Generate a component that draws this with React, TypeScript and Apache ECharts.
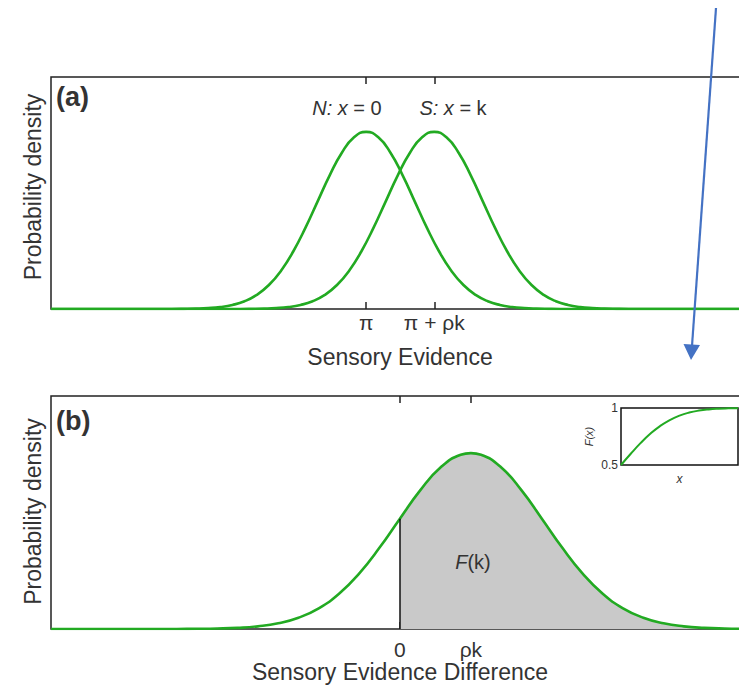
import React, { useEffect, useRef } from 'react';
import * as echarts from 'echarts';

const FONT = '"Liberation Sans", Arial, Helvetica, sans-serif';
const TEXT = '#333333';
const GREEN = '#22aa22';
const BOX = '#222222';

// ---- panel (a): two equal-variance distributions (N and S)
const aTickValues = [0, 1.4];
const aTickLabels = ['π', 'π + ρk'];
const aMeans = [0, 1.4]; // N: x = 0, S: x = k
const aRange = [-6.48, 8.2];
const shapeOffsets = [
  -4, -3.75, -3.5, -3.25, -3, -2.75, -2.5, -2.25, -2, -1.75, -1.5, -1.25, -1, -0.75, -0.5, -0.25,
  0, 0.25, 0.5, 0.75, 1, 1.25, 1.5, 1.75, 2, 2.25, 2.5, 2.75, 3, 3.25, 3.5, 3.75, 4,
];
const shapeHeights = [
  0.0003, 0.0009, 0.0022, 0.0051, 0.0111, 0.0228, 0.0439, 0.0796, 0.1353, 0.2163, 0.3247, 0.4578,
  0.6065, 0.7548, 0.8825, 0.9692, 1, 0.9692, 0.8825, 0.7548, 0.6065, 0.4578, 0.3247, 0.2163,
  0.1353, 0.0796, 0.0439, 0.0228, 0.0111, 0.0051, 0.0022, 0.0009, 0.0003,
];

// ---- panel (b): difference distribution
const bTickValues = [0, 1.4];
const bTickLabels = ['0', 'ρk'];
const bRange = [-6.88, 7.2];
const bX = [
  -4.4, -4.0, -3.6, -3.2, -2.8, -2.4, -2.0, -1.6, -1.2, -0.8, -0.4, 0, 0.4, 0.8, 1.2, 1.4, 1.6, 2.0,
  2.4, 2.8, 3.2, 3.6, 4.0, 4.4, 4.8, 5.2, 5.6, 6.0, 6.4, 6.8, 7.2,
];
const bY = [
  0.0003, 0.001, 0.0026, 0.0065, 0.0151, 0.0323, 0.064, 0.1177, 0.2003, 0.3163, 0.463, 0.6275,
  0.7883, 0.918, 0.9905, 1, 0.9905, 0.918, 0.7883, 0.6275, 0.463, 0.3163, 0.2003, 0.1177, 0.064,
  0.0323, 0.0151, 0.0065, 0.0026, 0.001, 0.0003,
];

// ---- inset: F(x)
const insetX = [0, 0.25, 0.5, 0.75, 1, 1.25, 1.5, 1.75, 2, 2.25, 2.5, 2.75, 3];
const insetY = [0.5, 0.5987, 0.6915, 0.7734, 0.8413, 0.8944, 0.9332, 0.9599, 0.9772, 0.9878, 0.9938, 0.997, 0.9987];

const tickStyle = { color: BOX, width: 1.5 };

function bottomAxis(gridIndex: number, range: number[], values: number[], labels: string[], name: string, margin: number, nameGap: number) {
  return {
    type: 'value',
    gridIndex,
    position: 'bottom',
    min: range[0],
    max: range[1],
    axisLine: { show: false },
    splitLine: { show: false },
    axisTick: { show: true, inside: true, length: 7, customValues: values, lineStyle: tickStyle },
    axisLabel: {
      show: true,
      customValues: values,
      formatter: (v: number) => labels[values.indexOf(v)] ?? '',
      fontSize: 21,
      color: TEXT,
      fontFamily: FONT,
      margin,
    },
    name,
    nameLocation: 'middle',
    nameGap,
    nameTextStyle: { fontSize: 23, color: TEXT, fontFamily: FONT, padding: [0, 16, 0, 0] },
  };
}

function topAxis(gridIndex: number, range: number[], values: number[]) {
  return {
    type: 'value',
    gridIndex,
    position: 'top',
    min: range[0],
    max: range[1],
    axisLine: { show: false },
    splitLine: { show: false },
    axisTick: { show: true, inside: true, length: 7, customValues: values, lineStyle: tickStyle },
    axisLabel: { show: false },
  };
}

function densityAxis(gridIndex: number, max: number, padding: number[]) {
  return {
    type: 'value',
    gridIndex,
    min: 0,
    max,
    axisLine: { show: false },
    axisTick: { show: false },
    axisLabel: { show: false },
    splitLine: { show: false },
    name: 'Probability density',
    nameLocation: 'middle',
    nameRotate: 90,
    nameGap: 7,
    nameTextStyle: { fontSize: 23, color: TEXT, fontFamily: FONT, padding },
  };
}

function curve(mean: number, range: number[]) {
  return [
    [range[0], 0],
    ...shapeOffsets.map((o, i) => [mean + o, shapeHeights[i]]),
    [range[1], 0],
  ];
}

export default function App() {
  const ref = useRef<HTMLDivElement>(null);

  useEffect(() => {
    if (!ref.current) return;
    const chart = echarts.init(ref.current, undefined, { renderer: 'svg' });
    const bLine = [[bRange[0], 0], ...bX.map((x, i) => [x, bY[i]])];
    const bShade = bX.map((x, i) => [x, bY[i]]).filter((p) => p[0] >= 0);
    const zeroHeight = bY[bX.indexOf(0)];

    const lineCommon = {
      type: 'line',
      showSymbol: false,
      smooth: 0.5,
      silent: true,
    };

    const gridCommon = { show: true, outerBoundsMode: 'none', containLabel: false };

    chart.setOption({
      animation: false,
      backgroundColor: '#ffffff',
      grid: [
        { ...gridCommon, left: 51, top: 77, width: 714, height: 232, borderColor: BOX, borderWidth: 1.5 },
        { ...gridCommon, left: 51, top: 396, width: 714, height: 233, borderColor: BOX, borderWidth: 1.5 },
        { ...gridCommon, left: 621, top: 408, width: 117, height: 57, borderColor: '#111111', borderWidth: 1.5 },
      ],
      xAxis: [
        bottomAxis(0, aRange, aTickValues, aTickLabels, 'Sensory Evidence', 3, 36),
        topAxis(0, aRange, aTickValues),
        bottomAxis(1, bRange, bTickValues, bTickLabels, 'Sensory Evidence Difference', 10, 31),
        topAxis(1, bRange, bTickValues),
        {
          type: 'value',
          gridIndex: 2,
          min: 0,
          max: 3,
          axisLine: { show: false },
          axisTick: { show: false },
          axisLabel: { show: false },
          splitLine: { show: false },
          name: 'x',
          nameLocation: 'middle',
          nameGap: 8,
          nameTextStyle: { fontSize: 12, fontStyle: 'italic', color: TEXT, fontFamily: FONT },
        },
      ],
      yAxis: [
        densityAxis(0, 1.31, [0, 0, 0, 12]),
        densityAxis(1, 1.325, [0, 0, 0, 2]),
        {
          type: 'value',
          gridIndex: 2,
          min: 0.5,
          max: 1,
          interval: 0.5,
          axisLine: { show: false },
          axisTick: { show: false },
          splitLine: { show: false },
          axisLabel: { fontSize: 12, color: TEXT, fontFamily: FONT, margin: 3 },
          name: 'F(x)',
          nameLocation: 'middle',
          nameRotate: 90,
          nameGap: 27,
          nameTextStyle: { fontSize: 11, fontStyle: 'italic', color: TEXT, fontFamily: FONT },
        },
      ],
      series: [
        {
          ...lineCommon,
          name: 'N',
          xAxisIndex: 0,
          yAxisIndex: 0,
          data: curve(aMeans[0], aRange),
          lineStyle: { color: GREEN, width: 2.6 },
        },
        {
          ...lineCommon,
          name: 'S',
          xAxisIndex: 0,
          yAxisIndex: 0,
          data: curve(aMeans[1], aRange),
          lineStyle: { color: GREEN, width: 2.6 },
        },
        {
          ...lineCommon,
          name: 'F(k) area',
          xAxisIndex: 2,
          yAxisIndex: 1,
          data: bShade,
          lineStyle: { opacity: 0, width: 0 },
          areaStyle: { color: '#c9c9c9', opacity: 1 },
          z: 1,
          markLine: {
            silent: true,
            symbol: 'none',
            label: { show: false },
            lineStyle: { color: '#111111', width: 1.5, type: 'solid' },
            data: [[{ coord: [0, 0] }, { coord: [0, zeroHeight] }]],
          },
        },
        {
          ...lineCommon,
          name: 'Difference',
          xAxisIndex: 2,
          yAxisIndex: 1,
          data: bLine,
          lineStyle: { color: GREEN, width: 2.6 },
          z: 3,
        },
        {
          ...lineCommon,
          name: 'F(x)',
          xAxisIndex: 4,
          yAxisIndex: 2,
          data: insetX.map((x, i) => [x, insetY[i]]),
          lineStyle: { color: GREEN, width: 2 },
        },
      ],
      graphic: [
        {
          type: 'text',
          x: 56,
          y: 97,
          style: { text: '(a)', fontSize: 27, fontWeight: 'bold', fontFamily: FONT, fill: TEXT, align: 'left', verticalAlign: 'middle' },
        },
        {
          type: 'text',
          x: 56,
          y: 421,
          style: { text: '(b)', fontSize: 27, fontWeight: 'bold', fontFamily: FONT, fill: TEXT, align: 'left', verticalAlign: 'middle' },
        },
        {
          type: 'text',
          x: 347,
          y: 108,
          style: {
            text: '{i|N:} {i|x} = 0',
            fontSize: 20,
            fontFamily: FONT,
            fill: TEXT,
            align: 'center',
            verticalAlign: 'middle',
            rich: { i: { fontStyle: 'italic', fontSize: 20, fontFamily: FONT, fill: TEXT } },
          },
        },
        {
          type: 'text',
          x: 453,
          y: 108,
          style: {
            text: '{i|S:} {i|x} = k',
            fontSize: 20,
            fontFamily: FONT,
            fill: TEXT,
            align: 'center',
            verticalAlign: 'middle',
            rich: { i: { fontStyle: 'italic', fontSize: 20, fontFamily: FONT, fill: TEXT } },
          },
        },
        {
          type: 'text',
          x: 473,
          y: 562,
          z: 10,
          style: {
            text: '{i|F}(k)',
            fontSize: 20,
            fontFamily: FONT,
            fill: TEXT,
            align: 'center',
            verticalAlign: 'middle',
            rich: { i: { fontStyle: 'italic', fontSize: 20, fontFamily: FONT, fill: TEXT } },
          },
        },
        {
          type: 'line',
          z: 20,
          shape: { x1: 716, y1: 8, x2: 692, y2: 346 },
          style: { stroke: '#4472c4', lineWidth: 2.2 },
        },
        {
          type: 'polygon',
          z: 20,
          shape: { points: [[691, 360], [683.5, 344], [700, 345]] },
          style: { fill: '#4472c4' },
        },
      ],
    });
    return () => chart.dispose();
  }, []);

  return <div ref={ref} style={{ position: 'absolute', left: 0, top: 0, width: 739, height: 689 }} />;
}
